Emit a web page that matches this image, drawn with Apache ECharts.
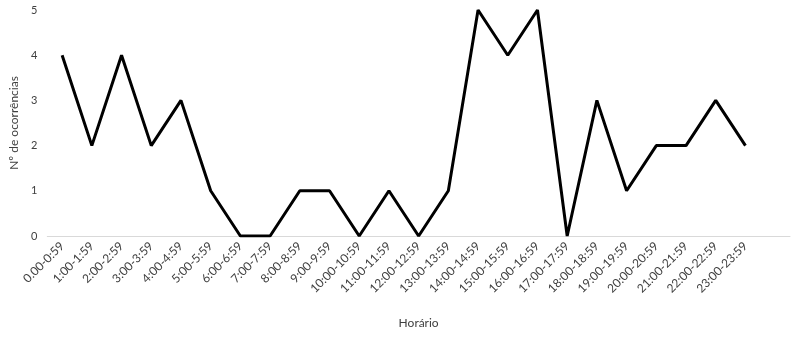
<!DOCTYPE html>
<html>
<head>
<meta charset="utf-8">
<script src="https://cdn.jsdelivr.net/npm/echarts@6/dist/echarts.min.js"></script>
<style>html,body{margin:0;padding:0;background:#fff;}#c{width:800px;height:340px;}</style>
</head>
<body>
<div id="c"></div>
<script>
var categories = ['0.00-0:59','1:00-1:59','2:00-2:59','3:00-3:59','4:00-4:59','5:00-5:59','6:00-6:59','7:00-7:59','8:00-8:59','9:00-9:59','10:00-10:59','11:00-11:59','12:00-12:59','13:00-13:59','14:00-14:59','15:00-15:59','16:00-16:59','17:00-17:59','18:00-18:59','19:00-19:59','20:00-20:59','21:00-21:59','22:00-22:59','23:00-23:59'];
var ocorrencias = [4,2,4,2,3,1,0,0,1,1,0,1,0,1,5,4,5,0,3,1,2,2,3,2];
var yTicks = [0,1,2,3,4,5];

var chart = echarts.init(document.getElementById('c'));
chart.setOption({
  animation: false,
  grid: {left: 47, right: 10, top: 10, bottom: 104, containLabel: false},
  xAxis: {
    type: 'category',
    data: categories,
    max: categories.length,
    boundaryGap: true,
    name: 'Horário',
    nameLocation: 'middle',
    nameGap: 81,
    nameTextStyle: {fontFamily: 'Lato', fontSize: 12, color: '#404040'},
    axisLine: {lineStyle: {color: '#d9d9d9', width: 1}},
    axisTick: {show: false},
    axisLabel: {rotate: 45, interval: 0, fontFamily: 'Lato', fontSize: 12, color: '#404040', margin: 8},
    splitLine: {show: false}
  },
  yAxis: {
    type: 'value',
    min: yTicks[0],
    max: yTicks[yTicks.length - 1],
    interval: 1,
    name: 'Nº de ocorrências',
    nameLocation: 'middle',
    nameGap: 19,
    nameTextStyle: {fontFamily: 'Lato', fontSize: 12, color: '#404040'},
    axisLine: {show: false},
    axisTick: {show: false},
    axisLabel: {fontFamily: 'Lato', fontSize: 11, color: '#404040', margin: 10},
    splitLine: {show: false}
  },
  series: [{
    type: 'line',
    data: ocorrencias,
    showSymbol: false,
    symbol: 'none',
    lineStyle: {color: '#000', width: 3},
    itemStyle: {color: '#000'}
  }]
});
</script>
</body>
</html>
